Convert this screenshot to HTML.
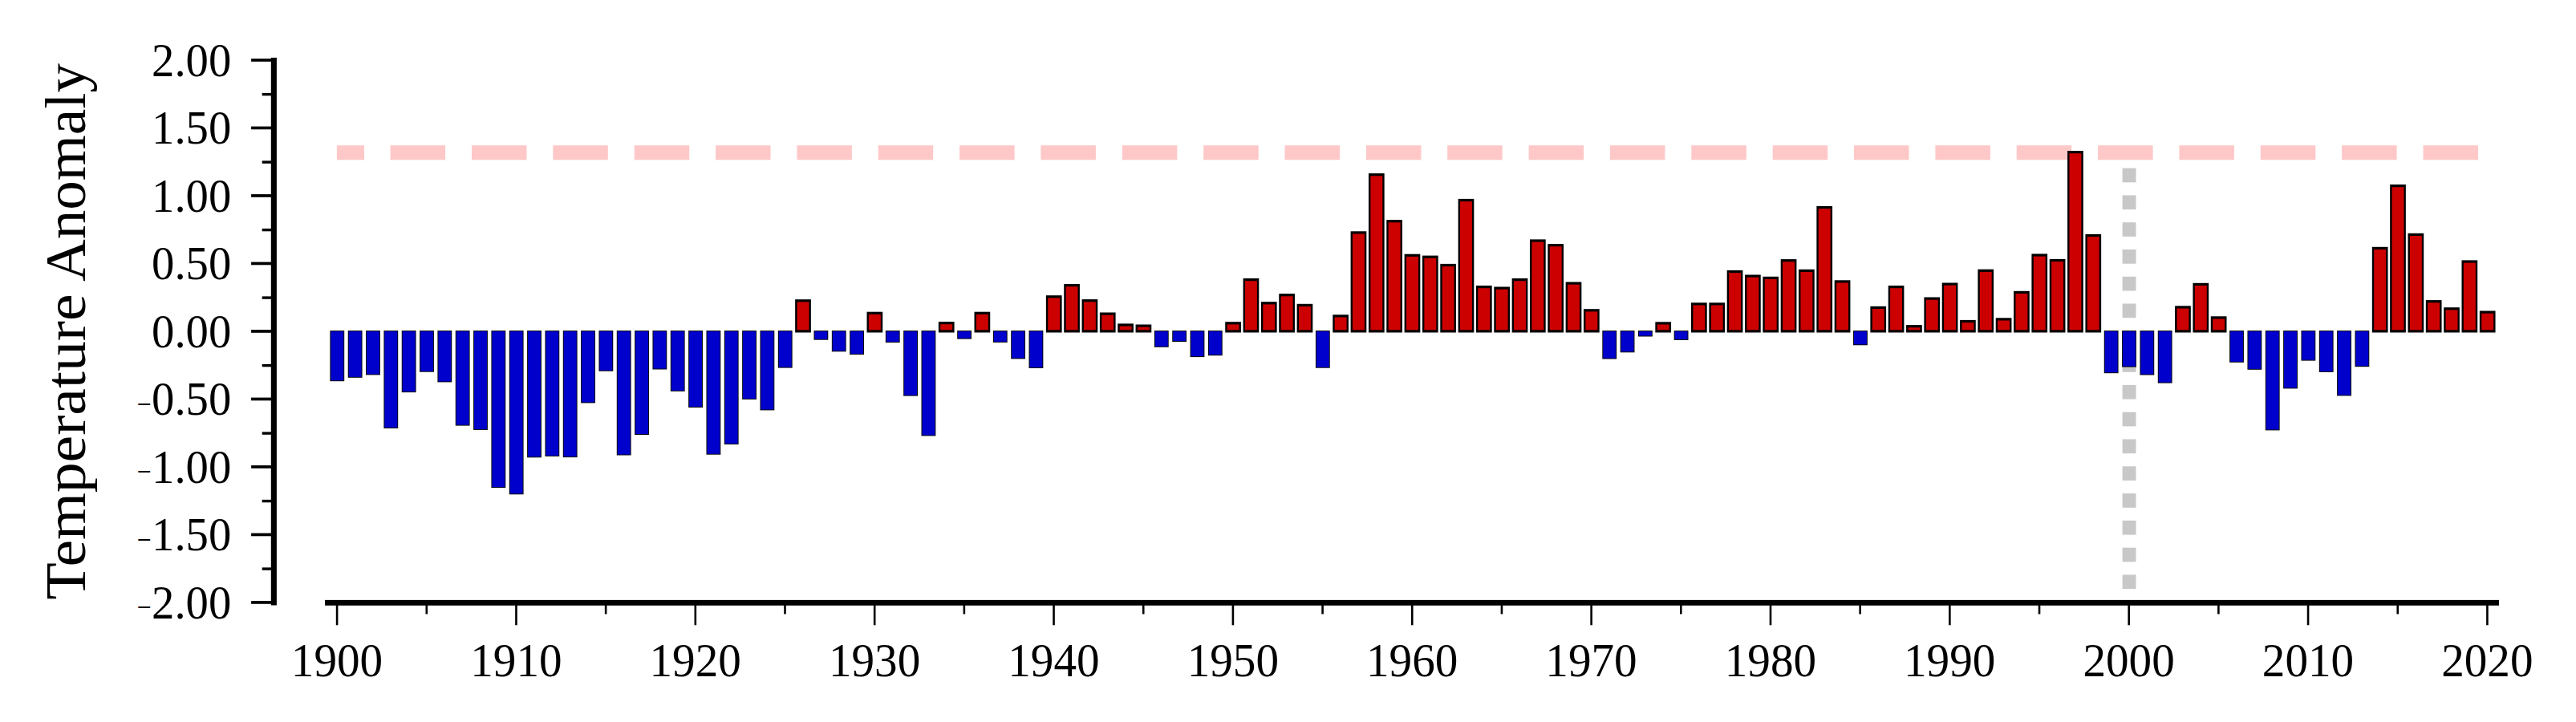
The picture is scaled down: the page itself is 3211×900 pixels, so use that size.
<!DOCTYPE html>
<html lang="en"><head><meta charset="utf-8"><title>Temperature Anomaly</title>
<style>
html,body{margin:0;padding:0;background:#fff;}
body{width:3211px;height:900px;overflow:hidden;position:relative;font-family:"Liberation Serif",serif;color:#000;}
svg{position:absolute;left:0;top:0;display:block;}
text{font-family:"Liberation Serif",serif;fill:#000;}
</style></head><body>
<svg width="3211" height="900" viewBox="0 0 3211 900">
<rect x="0" y="0" width="3211" height="900" fill="#fff"/>
<g fill="#ffc8c8">
<rect x="419.9" y="181.2" width="34.1" height="18.1"/>
<rect x="486.6" y="181.2" width="68.5" height="18.1"/>
<rect x="588.0" y="181.2" width="68.5" height="18.1"/>
<rect x="689.3" y="181.2" width="68.5" height="18.1"/>
<rect x="790.7" y="181.2" width="68.5" height="18.1"/>
<rect x="892.0" y="181.2" width="68.5" height="18.1"/>
<rect x="993.4" y="181.2" width="68.5" height="18.1"/>
<rect x="1094.7" y="181.2" width="68.5" height="18.1"/>
<rect x="1196.1" y="181.2" width="68.5" height="18.1"/>
<rect x="1297.4" y="181.2" width="68.5" height="18.1"/>
<rect x="1398.8" y="181.2" width="68.5" height="18.1"/>
<rect x="1500.2" y="181.2" width="68.5" height="18.1"/>
<rect x="1601.5" y="181.2" width="68.5" height="18.1"/>
<rect x="1702.9" y="181.2" width="68.5" height="18.1"/>
<rect x="1804.2" y="181.2" width="68.5" height="18.1"/>
<rect x="1905.6" y="181.2" width="68.5" height="18.1"/>
<rect x="2006.9" y="181.2" width="68.5" height="18.1"/>
<rect x="2108.3" y="181.2" width="68.5" height="18.1"/>
<rect x="2209.7" y="181.2" width="68.5" height="18.1"/>
<rect x="2311.0" y="181.2" width="68.5" height="18.1"/>
<rect x="2412.4" y="181.2" width="68.5" height="18.1"/>
<rect x="2513.7" y="181.2" width="68.5" height="18.1"/>
<rect x="2615.1" y="181.2" width="68.5" height="18.1"/>
<rect x="2716.4" y="181.2" width="68.5" height="18.1"/>
<rect x="2817.8" y="181.2" width="68.5" height="18.1"/>
<rect x="2919.1" y="181.2" width="68.5" height="18.1"/>
<rect x="3020.5" y="181.2" width="68.5" height="18.1"/>
</g>
<g fill="#c8c8c8">
<rect x="2645.6" y="209.6" width="16.9" height="17.7"/>
<rect x="2645.6" y="243.4" width="16.9" height="17.7"/>
<rect x="2645.6" y="277.2" width="16.9" height="17.7"/>
<rect x="2645.6" y="311.0" width="16.9" height="17.7"/>
<rect x="2645.6" y="344.8" width="16.9" height="17.7"/>
<rect x="2645.6" y="378.5" width="16.9" height="17.7"/>
<rect x="2645.6" y="412.3" width="16.9" height="17.7"/>
<rect x="2645.6" y="446.1" width="16.9" height="17.7"/>
<rect x="2645.6" y="479.9" width="16.9" height="17.7"/>
<rect x="2645.6" y="513.7" width="16.9" height="17.7"/>
<rect x="2645.6" y="547.5" width="16.9" height="17.7"/>
<rect x="2645.6" y="581.3" width="16.9" height="17.7"/>
<rect x="2645.6" y="615.1" width="16.9" height="17.7"/>
<rect x="2645.6" y="648.9" width="16.9" height="17.7"/>
<rect x="2645.6" y="682.7" width="16.9" height="17.7"/>
<rect x="2645.6" y="716.4" width="16.9" height="17.7"/>
</g>
<rect x="411.40" y="412.10" width="17.80" height="63.10" fill="#000"/>
<rect x="412.35" y="413.05" width="15.90" height="61.20" fill="#0000cd"/>
<rect x="433.74" y="412.10" width="17.80" height="58.70" fill="#000"/>
<rect x="434.69" y="413.05" width="15.90" height="56.80" fill="#0000cd"/>
<rect x="456.07" y="412.10" width="17.80" height="55.30" fill="#000"/>
<rect x="457.02" y="413.05" width="15.90" height="53.40" fill="#0000cd"/>
<rect x="478.41" y="412.10" width="17.80" height="121.90" fill="#000"/>
<rect x="479.36" y="413.05" width="15.90" height="120.00" fill="#0000cd"/>
<rect x="500.75" y="412.10" width="17.80" height="77.00" fill="#000"/>
<rect x="501.70" y="413.05" width="15.90" height="75.10" fill="#0000cd"/>
<rect x="523.09" y="412.10" width="17.80" height="51.60" fill="#000"/>
<rect x="524.04" y="413.05" width="15.90" height="49.70" fill="#0000cd"/>
<rect x="545.42" y="412.10" width="17.80" height="64.30" fill="#000"/>
<rect x="546.37" y="413.05" width="15.90" height="62.40" fill="#0000cd"/>
<rect x="567.76" y="412.10" width="17.80" height="118.50" fill="#000"/>
<rect x="568.71" y="413.05" width="15.90" height="116.60" fill="#0000cd"/>
<rect x="590.10" y="412.10" width="17.80" height="123.80" fill="#000"/>
<rect x="591.05" y="413.05" width="15.90" height="121.90" fill="#0000cd"/>
<rect x="612.43" y="412.10" width="17.80" height="196.00" fill="#000"/>
<rect x="613.38" y="413.05" width="15.90" height="194.10" fill="#0000cd"/>
<rect x="634.77" y="412.10" width="17.80" height="204.20" fill="#000"/>
<rect x="635.72" y="413.05" width="15.90" height="202.30" fill="#0000cd"/>
<rect x="657.11" y="412.10" width="17.80" height="158.20" fill="#000"/>
<rect x="658.06" y="413.05" width="15.90" height="156.30" fill="#0000cd"/>
<rect x="679.44" y="412.10" width="17.80" height="156.80" fill="#000"/>
<rect x="680.39" y="413.05" width="15.90" height="154.90" fill="#0000cd"/>
<rect x="701.78" y="412.10" width="17.80" height="158.00" fill="#000"/>
<rect x="702.73" y="413.05" width="15.90" height="156.10" fill="#0000cd"/>
<rect x="724.12" y="412.10" width="17.80" height="90.30" fill="#000"/>
<rect x="725.07" y="413.05" width="15.90" height="88.40" fill="#0000cd"/>
<rect x="746.46" y="412.10" width="17.80" height="50.60" fill="#000"/>
<rect x="747.41" y="413.05" width="15.90" height="48.70" fill="#0000cd"/>
<rect x="768.79" y="412.10" width="17.80" height="155.40" fill="#000"/>
<rect x="769.74" y="413.05" width="15.90" height="153.50" fill="#0000cd"/>
<rect x="791.13" y="412.10" width="17.80" height="129.90" fill="#000"/>
<rect x="792.08" y="413.05" width="15.90" height="128.00" fill="#0000cd"/>
<rect x="813.47" y="412.10" width="17.80" height="48.40" fill="#000"/>
<rect x="814.42" y="413.05" width="15.90" height="46.50" fill="#0000cd"/>
<rect x="835.80" y="412.10" width="17.80" height="75.70" fill="#000"/>
<rect x="836.75" y="413.05" width="15.90" height="73.80" fill="#0000cd"/>
<rect x="858.14" y="412.10" width="17.80" height="95.90" fill="#000"/>
<rect x="859.09" y="413.05" width="15.90" height="94.00" fill="#0000cd"/>
<rect x="880.48" y="412.10" width="17.80" height="154.60" fill="#000"/>
<rect x="881.43" y="413.05" width="15.90" height="152.70" fill="#0000cd"/>
<rect x="902.81" y="412.10" width="17.80" height="141.90" fill="#000"/>
<rect x="903.76" y="413.05" width="15.90" height="140.00" fill="#0000cd"/>
<rect x="925.15" y="412.10" width="17.80" height="85.80" fill="#000"/>
<rect x="926.10" y="413.05" width="15.90" height="83.90" fill="#0000cd"/>
<rect x="947.49" y="412.10" width="17.80" height="99.30" fill="#000"/>
<rect x="948.44" y="413.05" width="15.90" height="97.40" fill="#0000cd"/>
<rect x="969.82" y="412.10" width="17.80" height="46.50" fill="#000"/>
<rect x="970.77" y="413.05" width="15.90" height="44.60" fill="#0000cd"/>
<rect x="991.16" y="373.20" width="19.70" height="41.30" fill="#000"/>
<rect x="993.56" y="376.40" width="14.90" height="34.90" fill="#cd0000"/>
<rect x="1014.50" y="412.10" width="17.80" height="11.60" fill="#000"/>
<rect x="1015.45" y="413.05" width="15.90" height="9.70" fill="#0000cd"/>
<rect x="1036.84" y="412.10" width="17.80" height="26.20" fill="#000"/>
<rect x="1037.79" y="413.05" width="15.90" height="24.30" fill="#0000cd"/>
<rect x="1059.17" y="412.10" width="17.80" height="29.90" fill="#000"/>
<rect x="1060.12" y="413.05" width="15.90" height="28.00" fill="#0000cd"/>
<rect x="1080.51" y="388.70" width="19.70" height="25.80" fill="#000"/>
<rect x="1082.91" y="391.90" width="14.90" height="19.40" fill="#cd0000"/>
<rect x="1103.85" y="412.10" width="17.80" height="14.90" fill="#000"/>
<rect x="1104.80" y="413.05" width="15.90" height="13.00" fill="#0000cd"/>
<rect x="1126.18" y="412.10" width="17.80" height="81.50" fill="#000"/>
<rect x="1127.13" y="413.05" width="15.90" height="79.60" fill="#0000cd"/>
<rect x="1148.52" y="412.10" width="17.80" height="131.30" fill="#000"/>
<rect x="1149.47" y="413.05" width="15.90" height="129.40" fill="#0000cd"/>
<rect x="1169.86" y="401.00" width="19.70" height="13.50" fill="#000"/>
<rect x="1172.26" y="404.20" width="14.90" height="7.10" fill="#cd0000"/>
<rect x="1193.19" y="412.10" width="17.80" height="10.50" fill="#000"/>
<rect x="1194.14" y="413.05" width="15.90" height="8.60" fill="#0000cd"/>
<rect x="1214.53" y="388.70" width="19.70" height="25.80" fill="#000"/>
<rect x="1216.93" y="391.90" width="14.90" height="19.40" fill="#cd0000"/>
<rect x="1237.87" y="412.10" width="17.80" height="14.80" fill="#000"/>
<rect x="1238.82" y="413.05" width="15.90" height="12.90" fill="#0000cd"/>
<rect x="1260.21" y="412.10" width="17.80" height="35.30" fill="#000"/>
<rect x="1261.16" y="413.05" width="15.90" height="33.40" fill="#0000cd"/>
<rect x="1282.54" y="412.10" width="17.80" height="46.90" fill="#000"/>
<rect x="1283.49" y="413.05" width="15.90" height="45.00" fill="#0000cd"/>
<rect x="1303.88" y="368.20" width="19.70" height="46.30" fill="#000"/>
<rect x="1306.28" y="371.40" width="14.90" height="39.90" fill="#cd0000"/>
<rect x="1326.22" y="354.00" width="19.70" height="60.50" fill="#000"/>
<rect x="1328.62" y="357.20" width="14.90" height="54.10" fill="#cd0000"/>
<rect x="1348.55" y="373.10" width="19.70" height="41.40" fill="#000"/>
<rect x="1350.95" y="376.30" width="14.90" height="35.00" fill="#cd0000"/>
<rect x="1370.89" y="389.50" width="19.70" height="25.00" fill="#000"/>
<rect x="1373.29" y="392.70" width="14.90" height="18.60" fill="#cd0000"/>
<rect x="1393.23" y="403.40" width="19.70" height="11.10" fill="#000"/>
<rect x="1395.63" y="406.60" width="14.90" height="4.70" fill="#cd0000"/>
<rect x="1415.56" y="404.50" width="19.70" height="10.00" fill="#000"/>
<rect x="1417.96" y="407.70" width="14.90" height="3.60" fill="#cd0000"/>
<rect x="1438.90" y="412.10" width="17.80" height="20.70" fill="#000"/>
<rect x="1439.85" y="413.05" width="15.90" height="18.80" fill="#0000cd"/>
<rect x="1461.24" y="412.10" width="17.80" height="13.90" fill="#000"/>
<rect x="1462.19" y="413.05" width="15.90" height="12.00" fill="#0000cd"/>
<rect x="1483.58" y="412.10" width="17.80" height="33.00" fill="#000"/>
<rect x="1484.53" y="413.05" width="15.90" height="31.10" fill="#0000cd"/>
<rect x="1505.91" y="412.10" width="17.80" height="31.10" fill="#000"/>
<rect x="1506.86" y="413.05" width="15.90" height="29.20" fill="#0000cd"/>
<rect x="1527.25" y="401.20" width="19.70" height="13.30" fill="#000"/>
<rect x="1529.65" y="404.40" width="14.90" height="6.90" fill="#cd0000"/>
<rect x="1549.59" y="347.00" width="19.70" height="67.50" fill="#000"/>
<rect x="1551.99" y="350.20" width="14.90" height="61.10" fill="#cd0000"/>
<rect x="1571.92" y="376.20" width="19.70" height="38.30" fill="#000"/>
<rect x="1574.32" y="379.40" width="14.90" height="31.90" fill="#cd0000"/>
<rect x="1594.26" y="366.10" width="19.70" height="48.40" fill="#000"/>
<rect x="1596.66" y="369.30" width="14.90" height="42.00" fill="#cd0000"/>
<rect x="1616.60" y="378.80" width="19.70" height="35.70" fill="#000"/>
<rect x="1619.00" y="382.00" width="14.90" height="29.30" fill="#cd0000"/>
<rect x="1639.93" y="412.10" width="17.80" height="46.60" fill="#000"/>
<rect x="1640.88" y="413.05" width="15.90" height="44.70" fill="#0000cd"/>
<rect x="1661.27" y="392.30" width="19.70" height="22.20" fill="#000"/>
<rect x="1663.67" y="395.50" width="14.90" height="15.80" fill="#cd0000"/>
<rect x="1683.61" y="288.30" width="19.70" height="126.20" fill="#000"/>
<rect x="1686.01" y="291.50" width="14.90" height="119.80" fill="#cd0000"/>
<rect x="1705.95" y="216.10" width="19.70" height="198.40" fill="#000"/>
<rect x="1708.35" y="219.30" width="14.90" height="192.00" fill="#cd0000"/>
<rect x="1728.28" y="274.10" width="19.70" height="140.40" fill="#000"/>
<rect x="1730.68" y="277.30" width="14.90" height="134.00" fill="#cd0000"/>
<rect x="1750.62" y="316.70" width="19.70" height="97.80" fill="#000"/>
<rect x="1753.02" y="319.90" width="14.90" height="91.40" fill="#cd0000"/>
<rect x="1772.96" y="318.60" width="19.70" height="95.90" fill="#000"/>
<rect x="1775.36" y="321.80" width="14.90" height="89.50" fill="#cd0000"/>
<rect x="1795.29" y="328.90" width="19.70" height="85.60" fill="#000"/>
<rect x="1797.69" y="332.10" width="14.90" height="79.20" fill="#cd0000"/>
<rect x="1817.63" y="247.90" width="19.70" height="166.60" fill="#000"/>
<rect x="1820.03" y="251.10" width="14.90" height="160.20" fill="#cd0000"/>
<rect x="1839.97" y="356.00" width="19.70" height="58.50" fill="#000"/>
<rect x="1842.37" y="359.20" width="14.90" height="52.10" fill="#cd0000"/>
<rect x="1862.30" y="357.50" width="19.70" height="57.00" fill="#000"/>
<rect x="1864.70" y="360.70" width="14.90" height="50.60" fill="#cd0000"/>
<rect x="1884.64" y="347.00" width="19.70" height="67.50" fill="#000"/>
<rect x="1887.04" y="350.20" width="14.90" height="61.10" fill="#cd0000"/>
<rect x="1906.98" y="298.40" width="19.70" height="116.10" fill="#000"/>
<rect x="1909.38" y="301.60" width="14.90" height="109.70" fill="#cd0000"/>
<rect x="1929.32" y="304.00" width="19.70" height="110.50" fill="#000"/>
<rect x="1931.72" y="307.20" width="14.90" height="104.10" fill="#cd0000"/>
<rect x="1951.65" y="351.50" width="19.70" height="63.00" fill="#000"/>
<rect x="1954.05" y="354.70" width="14.90" height="56.60" fill="#cd0000"/>
<rect x="1973.99" y="385.20" width="19.70" height="29.30" fill="#000"/>
<rect x="1976.39" y="388.40" width="14.90" height="22.90" fill="#cd0000"/>
<rect x="1997.33" y="412.10" width="17.80" height="35.40" fill="#000"/>
<rect x="1998.28" y="413.05" width="15.90" height="33.50" fill="#0000cd"/>
<rect x="2019.66" y="412.10" width="17.80" height="27.20" fill="#000"/>
<rect x="2020.61" y="413.05" width="15.90" height="25.30" fill="#0000cd"/>
<rect x="2042.00" y="412.10" width="17.80" height="7.40" fill="#000"/>
<rect x="2042.95" y="413.05" width="15.90" height="5.50" fill="#0000cd"/>
<rect x="2063.34" y="401.30" width="19.70" height="13.20" fill="#000"/>
<rect x="2065.74" y="404.50" width="14.90" height="6.80" fill="#cd0000"/>
<rect x="2086.68" y="412.10" width="17.80" height="11.80" fill="#000"/>
<rect x="2087.62" y="413.05" width="15.90" height="9.90" fill="#0000cd"/>
<rect x="2108.01" y="377.30" width="19.70" height="37.20" fill="#000"/>
<rect x="2110.41" y="380.50" width="14.90" height="30.80" fill="#cd0000"/>
<rect x="2130.35" y="377.30" width="19.70" height="37.20" fill="#000"/>
<rect x="2132.75" y="380.50" width="14.90" height="30.80" fill="#cd0000"/>
<rect x="2152.69" y="336.90" width="19.70" height="77.60" fill="#000"/>
<rect x="2155.09" y="340.10" width="14.90" height="71.20" fill="#cd0000"/>
<rect x="2175.02" y="342.50" width="19.70" height="72.00" fill="#000"/>
<rect x="2177.42" y="345.70" width="14.90" height="65.60" fill="#cd0000"/>
<rect x="2197.36" y="344.80" width="19.70" height="69.70" fill="#000"/>
<rect x="2199.76" y="348.00" width="14.90" height="63.30" fill="#cd0000"/>
<rect x="2219.70" y="323.10" width="19.70" height="91.40" fill="#000"/>
<rect x="2222.10" y="326.30" width="14.90" height="85.00" fill="#cd0000"/>
<rect x="2242.03" y="335.80" width="19.70" height="78.70" fill="#000"/>
<rect x="2244.43" y="339.00" width="14.90" height="72.30" fill="#cd0000"/>
<rect x="2264.37" y="256.90" width="19.70" height="157.60" fill="#000"/>
<rect x="2266.77" y="260.10" width="14.90" height="151.20" fill="#cd0000"/>
<rect x="2286.71" y="349.30" width="19.70" height="65.20" fill="#000"/>
<rect x="2289.11" y="352.50" width="14.90" height="58.80" fill="#cd0000"/>
<rect x="2310.05" y="412.10" width="17.80" height="18.20" fill="#000"/>
<rect x="2310.99" y="413.05" width="15.90" height="16.30" fill="#0000cd"/>
<rect x="2331.38" y="381.80" width="19.70" height="32.70" fill="#000"/>
<rect x="2333.78" y="385.00" width="14.90" height="26.30" fill="#cd0000"/>
<rect x="2353.72" y="356.00" width="19.70" height="58.50" fill="#000"/>
<rect x="2356.12" y="359.20" width="14.90" height="52.10" fill="#cd0000"/>
<rect x="2376.06" y="405.10" width="19.70" height="9.40" fill="#000"/>
<rect x="2378.46" y="408.30" width="14.90" height="3.00" fill="#cd0000"/>
<rect x="2398.39" y="370.50" width="19.70" height="44.00" fill="#000"/>
<rect x="2400.79" y="373.70" width="14.90" height="37.60" fill="#cd0000"/>
<rect x="2420.73" y="352.50" width="19.70" height="62.00" fill="#000"/>
<rect x="2423.13" y="355.70" width="14.90" height="55.60" fill="#cd0000"/>
<rect x="2443.07" y="398.90" width="19.70" height="15.60" fill="#000"/>
<rect x="2445.47" y="402.10" width="14.90" height="9.20" fill="#cd0000"/>
<rect x="2465.40" y="335.70" width="19.70" height="78.80" fill="#000"/>
<rect x="2467.80" y="338.90" width="14.90" height="72.40" fill="#cd0000"/>
<rect x="2487.74" y="396.30" width="19.70" height="18.20" fill="#000"/>
<rect x="2490.14" y="399.50" width="14.90" height="11.80" fill="#cd0000"/>
<rect x="2510.08" y="362.80" width="19.70" height="51.70" fill="#000"/>
<rect x="2512.48" y="366.00" width="14.90" height="45.30" fill="#cd0000"/>
<rect x="2532.41" y="316.40" width="19.70" height="98.10" fill="#000"/>
<rect x="2534.82" y="319.60" width="14.90" height="91.70" fill="#cd0000"/>
<rect x="2554.75" y="322.90" width="19.70" height="91.60" fill="#000"/>
<rect x="2557.15" y="326.10" width="14.90" height="85.20" fill="#cd0000"/>
<rect x="2577.09" y="188.00" width="19.70" height="226.50" fill="#000"/>
<rect x="2579.49" y="191.20" width="14.90" height="220.10" fill="#cd0000"/>
<rect x="2599.43" y="291.90" width="19.70" height="122.60" fill="#000"/>
<rect x="2601.83" y="295.10" width="14.90" height="116.20" fill="#cd0000"/>
<rect x="2622.76" y="412.10" width="17.80" height="53.10" fill="#000"/>
<rect x="2623.71" y="413.05" width="15.90" height="51.20" fill="#0000cd"/>
<rect x="2645.10" y="412.10" width="17.80" height="45.50" fill="#000"/>
<rect x="2646.05" y="413.05" width="15.90" height="43.60" fill="#0000cd"/>
<rect x="2667.44" y="412.10" width="17.80" height="55.40" fill="#000"/>
<rect x="2668.39" y="413.05" width="15.90" height="53.50" fill="#0000cd"/>
<rect x="2689.77" y="412.10" width="17.80" height="65.50" fill="#000"/>
<rect x="2690.72" y="413.05" width="15.90" height="63.60" fill="#0000cd"/>
<rect x="2711.11" y="381.30" width="19.70" height="33.20" fill="#000"/>
<rect x="2713.51" y="384.50" width="14.90" height="26.80" fill="#cd0000"/>
<rect x="2733.45" y="352.80" width="19.70" height="61.70" fill="#000"/>
<rect x="2735.85" y="356.00" width="14.90" height="55.30" fill="#cd0000"/>
<rect x="2755.78" y="394.30" width="19.70" height="20.20" fill="#000"/>
<rect x="2758.18" y="397.50" width="14.90" height="13.80" fill="#cd0000"/>
<rect x="2779.12" y="412.10" width="17.80" height="39.70" fill="#000"/>
<rect x="2780.07" y="413.05" width="15.90" height="37.80" fill="#0000cd"/>
<rect x="2801.46" y="412.10" width="17.80" height="48.70" fill="#000"/>
<rect x="2802.41" y="413.05" width="15.90" height="46.80" fill="#0000cd"/>
<rect x="2823.80" y="412.10" width="17.80" height="124.30" fill="#000"/>
<rect x="2824.75" y="413.05" width="15.90" height="122.40" fill="#0000cd"/>
<rect x="2846.13" y="412.10" width="17.80" height="72.30" fill="#000"/>
<rect x="2847.08" y="413.05" width="15.90" height="70.40" fill="#0000cd"/>
<rect x="2868.47" y="412.10" width="17.80" height="37.50" fill="#000"/>
<rect x="2869.42" y="413.05" width="15.90" height="35.60" fill="#0000cd"/>
<rect x="2890.81" y="412.10" width="17.80" height="51.80" fill="#000"/>
<rect x="2891.76" y="413.05" width="15.90" height="49.90" fill="#0000cd"/>
<rect x="2913.14" y="412.10" width="17.80" height="81.30" fill="#000"/>
<rect x="2914.09" y="413.05" width="15.90" height="79.40" fill="#0000cd"/>
<rect x="2935.48" y="412.10" width="17.80" height="45.10" fill="#000"/>
<rect x="2936.43" y="413.05" width="15.90" height="43.20" fill="#0000cd"/>
<rect x="2956.82" y="307.80" width="19.70" height="106.70" fill="#000"/>
<rect x="2959.22" y="311.00" width="14.90" height="100.30" fill="#cd0000"/>
<rect x="2979.16" y="230.00" width="19.70" height="184.50" fill="#000"/>
<rect x="2981.56" y="233.20" width="14.90" height="178.10" fill="#cd0000"/>
<rect x="3001.49" y="290.80" width="19.70" height="123.70" fill="#000"/>
<rect x="3003.89" y="294.00" width="14.90" height="117.30" fill="#cd0000"/>
<rect x="3023.83" y="374.10" width="19.70" height="40.40" fill="#000"/>
<rect x="3026.23" y="377.30" width="14.90" height="34.00" fill="#cd0000"/>
<rect x="3046.17" y="383.20" width="19.70" height="31.30" fill="#000"/>
<rect x="3048.57" y="386.40" width="14.90" height="24.90" fill="#cd0000"/>
<rect x="3068.50" y="324.40" width="19.70" height="90.10" fill="#000"/>
<rect x="3070.90" y="327.60" width="14.90" height="83.70" fill="#cd0000"/>
<rect x="3090.84" y="387.50" width="19.70" height="27.00" fill="#000"/>
<rect x="3093.24" y="390.70" width="14.90" height="20.60" fill="#cd0000"/>
<g fill="#000">
<rect x="337.8" y="71.9" width="7.1" height="682.6"/>
<rect x="313.1" y="73.10" width="25" height="3.7"/>
<rect x="326.7" y="115.90" width="11.5" height="3.4"/>
<rect x="313.1" y="157.60" width="25" height="3.7"/>
<rect x="326.7" y="200.40" width="11.5" height="3.4"/>
<rect x="313.1" y="242.10" width="25" height="3.7"/>
<rect x="326.7" y="284.90" width="11.5" height="3.4"/>
<rect x="313.1" y="326.60" width="25" height="3.7"/>
<rect x="326.7" y="369.40" width="11.5" height="3.4"/>
<rect x="313.1" y="411.10" width="25" height="3.7"/>
<rect x="326.7" y="453.90" width="11.5" height="3.4"/>
<rect x="313.1" y="495.60" width="25" height="3.7"/>
<rect x="326.7" y="538.40" width="11.5" height="3.4"/>
<rect x="313.1" y="580.10" width="25" height="3.7"/>
<rect x="326.7" y="622.90" width="11.5" height="3.4"/>
<rect x="313.1" y="664.60" width="25" height="3.7"/>
<rect x="326.7" y="707.40" width="11.5" height="3.4"/>
<rect x="313.1" y="749.10" width="25" height="3.7"/>
<rect x="405.1" y="747.9" width="2709.9" height="6.9"/>
<rect x="418.80" y="751" width="2.6" height="28.3"/>
<rect x="530.48" y="751" width="2.6" height="14.5"/>
<rect x="642.16" y="751" width="2.6" height="28.3"/>
<rect x="753.84" y="751" width="2.6" height="14.5"/>
<rect x="865.52" y="751" width="2.6" height="28.3"/>
<rect x="977.20" y="751" width="2.6" height="14.5"/>
<rect x="1088.88" y="751" width="2.6" height="28.3"/>
<rect x="1200.56" y="751" width="2.6" height="14.5"/>
<rect x="1312.24" y="751" width="2.6" height="28.3"/>
<rect x="1423.92" y="751" width="2.6" height="14.5"/>
<rect x="1535.60" y="751" width="2.6" height="28.3"/>
<rect x="1647.28" y="751" width="2.6" height="14.5"/>
<rect x="1758.96" y="751" width="2.6" height="28.3"/>
<rect x="1870.64" y="751" width="2.6" height="14.5"/>
<rect x="1982.32" y="751" width="2.6" height="28.3"/>
<rect x="2094.00" y="751" width="2.6" height="14.5"/>
<rect x="2205.68" y="751" width="2.6" height="28.3"/>
<rect x="2317.36" y="751" width="2.6" height="14.5"/>
<rect x="2429.04" y="751" width="2.6" height="28.3"/>
<rect x="2540.72" y="751" width="2.6" height="14.5"/>
<rect x="2652.40" y="751" width="2.6" height="28.3"/>
<rect x="2764.08" y="751" width="2.6" height="14.5"/>
<rect x="2875.76" y="751" width="2.6" height="28.3"/>
<rect x="2987.44" y="751" width="2.6" height="14.5"/>
<rect x="3099.12" y="751" width="2.6" height="28.3"/>
</g>
<text transform="translate(420.0,843.4) scale(1.012,1.034)" font-size="56.5" text-anchor="middle">1900</text>
<text transform="translate(643.4,843.4) scale(1.012,1.034)" font-size="56.5" text-anchor="middle">1910</text>
<text transform="translate(866.7,843.4) scale(1.012,1.034)" font-size="56.5" text-anchor="middle">1920</text>
<text transform="translate(1090.1,843.4) scale(1.012,1.034)" font-size="56.5" text-anchor="middle">1930</text>
<text transform="translate(1313.4,843.4) scale(1.012,1.034)" font-size="56.5" text-anchor="middle">1940</text>
<text transform="translate(1536.8,843.4) scale(1.012,1.034)" font-size="56.5" text-anchor="middle">1950</text>
<text transform="translate(1760.2,843.4) scale(1.012,1.034)" font-size="56.5" text-anchor="middle">1960</text>
<text transform="translate(1983.5,843.4) scale(1.012,1.034)" font-size="56.5" text-anchor="middle">1970</text>
<text transform="translate(2206.9,843.4) scale(1.012,1.034)" font-size="56.5" text-anchor="middle">1980</text>
<text transform="translate(2430.2,843.4) scale(1.012,1.034)" font-size="56.5" text-anchor="middle">1990</text>
<text transform="translate(2653.6,843.4) scale(1.012,1.034)" font-size="56.5" text-anchor="middle">2000</text>
<text transform="translate(2877.0,843.4) scale(1.012,1.034)" font-size="56.5" text-anchor="middle">2010</text>
<text transform="translate(3100.3,843.4) scale(1.012,1.034)" font-size="56.5" text-anchor="middle">2020</text>
<text transform="translate(288.3,94.7) scale(1.004,1.033)" font-size="56.5" text-anchor="end">2.00</text>
<text transform="translate(288.3,179.2) scale(1.004,1.033)" font-size="56.5" text-anchor="end">1.50</text>
<text transform="translate(288.3,263.7) scale(1.004,1.033)" font-size="56.5" text-anchor="end">1.00</text>
<text transform="translate(288.3,348.2) scale(1.004,1.033)" font-size="56.5" text-anchor="end">0.50</text>
<text transform="translate(288.3,432.7) scale(1.004,1.033)" font-size="56.5" text-anchor="end">0.00</text>
<text transform="translate(288.3,517.1) scale(1.004,1.033)" font-size="56.5" text-anchor="end"><tspan font-size="27.12" dy="-6.9" textLength="18.8" lengthAdjust="spacingAndGlyphs">-</tspan><tspan dy="6.9">0.50</tspan></text>
<text transform="translate(288.3,601.6) scale(1.004,1.033)" font-size="56.5" text-anchor="end"><tspan font-size="27.12" dy="-6.9" textLength="18.8" lengthAdjust="spacingAndGlyphs">-</tspan><tspan dy="6.9">1.00</tspan></text>
<text transform="translate(288.3,686.1) scale(1.004,1.033)" font-size="56.5" text-anchor="end"><tspan font-size="27.12" dy="-6.9" textLength="18.8" lengthAdjust="spacingAndGlyphs">-</tspan><tspan dy="6.9">1.50</tspan></text>
<text transform="translate(288.3,770.6) scale(1.004,1.033)" font-size="56.5" text-anchor="end"><tspan font-size="27.12" dy="-6.9" textLength="18.8" lengthAdjust="spacingAndGlyphs">-</tspan><tspan dy="6.9">2.00</tspan></text>
<text transform="translate(106.2,0) rotate(-90)" font-size="71.0"><tspan x="-747.5" textLength="381" lengthAdjust="spacingAndGlyphs">Temperature</tspan> <tspan x="-351" textLength="272" lengthAdjust="spacingAndGlyphs">Anomaly</tspan></text>
</svg>
</body></html>
